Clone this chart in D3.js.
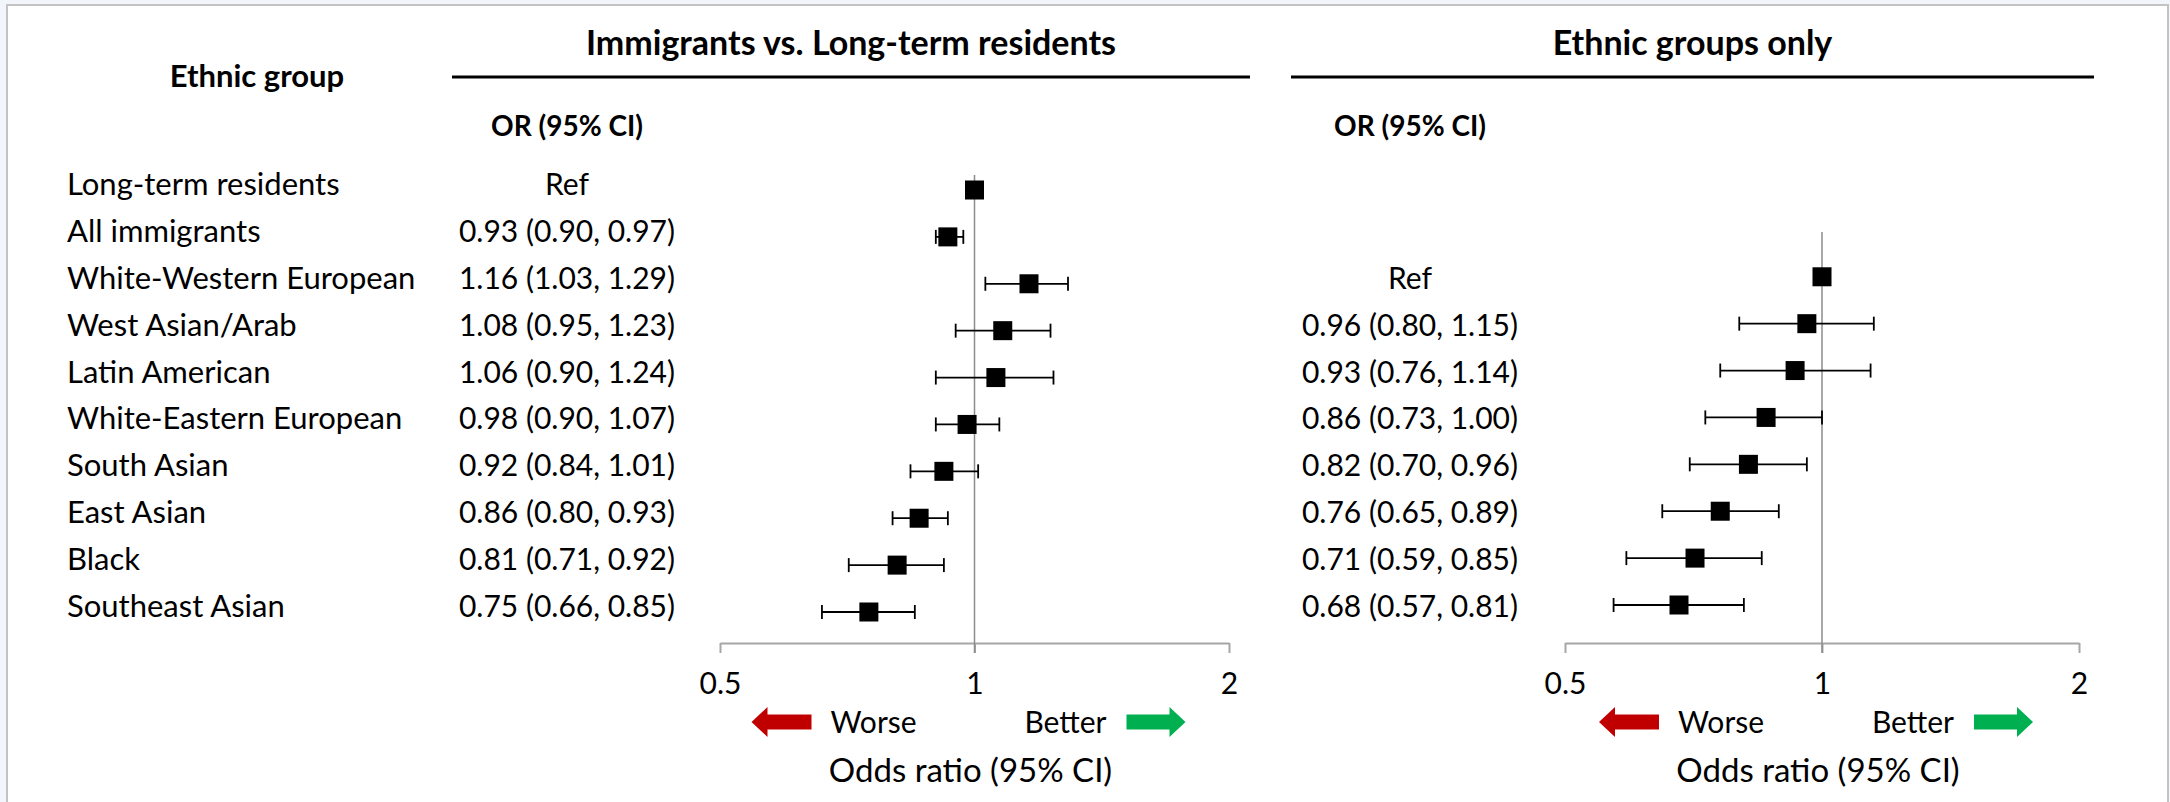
<!DOCTYPE html>
<html>
<head>
<meta charset="utf-8">
<script src="https://cdn.jsdelivr.net/npm/d3@7/dist/d3.min.js"></script>
<style>
  html, body { margin: 0; padding: 0; background: #f2f6fb; }
  svg { display: block; }
  text { font-family: Lato, "Open Sans", sans-serif; fill: #000; }
</style>
</head>
<body>
<svg id="chart" width="2170" height="802"></svg>
<script>
// ---------------- data ----------------
const groups = ["Long-term residents", "All immigrants", "White-Western European", "West Asian/Arab",
  "Latin American", "White-Eastern European", "South Asian", "East Asian", "Black", "Southeast Asian"];

// Panel A: Immigrants vs. Long-term residents
const orA = [1.00, 0.93, 1.16, 1.08, 1.06, 0.98, 0.92, 0.86, 0.81, 0.75];
const loA = [null, 0.90, 1.03, 0.95, 0.90, 0.90, 0.84, 0.80, 0.71, 0.66];
const hiA = [null, 0.97, 1.29, 1.23, 1.24, 1.07, 1.01, 0.93, 0.92, 0.85];
const refA = [true, false, false, false, false, false, false, false, false, false];

// Panel B: Ethnic groups only
const orB = [null, null, 1.00, 0.96, 0.93, 0.86, 0.82, 0.76, 0.71, 0.68];
const loB = [null, null, null, 0.80, 0.76, 0.73, 0.70, 0.65, 0.59, 0.57];
const hiB = [null, null, null, 1.15, 1.14, 1.00, 0.96, 0.89, 0.85, 0.81];
const refB = [false, false, true, false, false, false, false, false, false, false];

const tickValues = [0.5, 1, 2];
const tickLabels = ["0.5", "1", "2"];

const titleA = "Immigrants vs. Long-term residents";
const titleB = "Ethnic groups only";
const colHeader = "Ethnic group";
const orHeader = "OR (95% CI)";
const axisTitle = "Odds ratio (95% CI)";
const worseLabel = "Worse";
const betterLabel = "Better";

// ---------------- layout ----------------
const svg = d3.select("#chart");

svg.append("rect").attr("x", 7).attr("y", 5).attr("width", 2161).attr("height", 810)
  .attr("fill", "#fff").attr("stroke", "#c3c3c3").attr("stroke-width", 2);

const y = d3.scalePoint().domain(groups).range([185, 607]);
const fmt = d3.format(".2f");
const orText = (o, l, h, r) => r ? "Ref" : (o == null ? "" : `${fmt(o)} (${fmt(l)}, ${fmt(h)})`);

// column header
svg.append("text").attr("x", 257).attr("y", 87).attr("text-anchor", "middle")
  .attr("font-size", 31).attr("font-weight", 700).text(colHeader);

// row labels
svg.append("g").selectAll("text").data(groups).join("text")
  .attr("x", 67).attr("y", d => y(d) + 10).attr("font-size", 31).text(d => d);

const axisY = 643;

const panels = [
  { or: orA, lo: loA, hi: hiA, ref: refA, title: titleA, lineX: [452, 1250], colCenter: 567,
    range: [720, 1229], refTop: 175, mOff: 5 },
  { or: orB, lo: loB, hi: hiB, ref: refB, title: titleB, lineX: [1291, 2094], colCenter: 1410,
    range: [1565, 2079], refTop: 232, mOff: -2 }
];

panels.forEach(p => {
  const g = svg.append("g");
  const x = d3.scaleLog().base(2).domain([0.5, 2]).range(p.range);

  // title + rule
  g.append("text").attr("x", (p.lineX[0] + p.lineX[1]) / 2).attr("y", 55)
    .attr("text-anchor", "middle").attr("font-size", 34).attr("font-weight", 700).text(p.title);
  g.append("line").attr("x1", p.lineX[0]).attr("x2", p.lineX[1]).attr("y1", 77).attr("y2", 77)
    .attr("stroke", "#000").attr("stroke-width", 3);

  // OR header
  g.append("text").attr("x", p.colCenter).attr("y", 136).attr("text-anchor", "middle")
    .attr("font-size", 28).attr("font-weight", 700).text(orHeader);

  // OR values
  const rows = groups.map((gname, i) => ({ g: gname, or: p.or[i], lo: p.lo[i], hi: p.hi[i], ref: p.ref[i] }))
    .filter(d => d.or != null);

  g.append("g").selectAll("text").data(rows).join("text")
    .attr("x", p.colCenter).attr("y", d => y(d.g) + 10).attr("text-anchor", "middle")
    .attr("font-size", 30).text(d => orText(d.or, d.lo, d.hi, d.ref));

  // axis
  const axis = d3.axisBottom(x).tickValues(tickValues).tickFormat((d, i) => tickLabels[i])
    .tickSize(10).tickSizeOuter(0).tickPadding(20);
  const ag = g.append("g").attr("transform", `translate(0,${axisY})`).call(axis);
  ag.select(".domain").attr("stroke", "#a6a6a6").attr("stroke-width", 2);
  ag.selectAll(".tick line").attr("stroke", "#a6a6a6").attr("stroke-width", 2);
  ag.selectAll(".tick text").attr("font-size", 30).attr("font-family", "Lato, sans-serif").attr("fill", "#000");

  // reference line at 1
  g.append("line").attr("x1", x(1)).attr("x2", x(1)).attr("y1", p.refTop).attr("y2", axisY + 10)
    .attr("stroke", "#8c8c8c").attr("stroke-width", 1.5);

  // error bars
  const ci = rows.filter(d => d.lo != null);
  const cap = 7;
  const eg = g.append("g").attr("stroke", "#000").attr("stroke-width", 1.8);
  eg.selectAll("line.ci").data(ci).join("line").attr("class", "ci")
    .attr("x1", d => x(d.lo)).attr("x2", d => x(d.hi))
    .attr("y1", d => y(d.g) + p.mOff).attr("y2", d => y(d.g) + p.mOff);
  eg.selectAll("line.capl").data(ci).join("line").attr("class", "capl")
    .attr("x1", d => x(d.lo)).attr("x2", d => x(d.lo))
    .attr("y1", d => y(d.g) + p.mOff - cap).attr("y2", d => y(d.g) + p.mOff + cap);
  eg.selectAll("line.caph").data(ci).join("line").attr("class", "caph")
    .attr("x1", d => x(d.hi)).attr("x2", d => x(d.hi))
    .attr("y1", d => y(d.g) + p.mOff - cap).attr("y2", d => y(d.g) + p.mOff + cap);

  // markers
  const ms = 19;
  g.append("g").selectAll("rect").data(rows).join("rect")
    .attr("x", d => x(d.or) - ms / 2).attr("y", d => y(d.g) + p.mOff - ms / 2)
    .attr("width", ms).attr("height", ms).attr("fill", "#000");

  // worse / better
  const c = x(1);
  const arrow = (x0, x1, dir, color) => {
    const yc = 722, sh = 7.5, hh = 15, hl = 16;
    let pts;
    if (dir < 0) {
      pts = [[x0, yc], [x0 + hl, yc - hh], [x0 + hl, yc - sh], [x1, yc - sh], [x1, yc + sh], [x0 + hl, yc + sh], [x0 + hl, yc + hh]];
    } else {
      pts = [[x1, yc], [x1 - hl, yc - hh], [x1 - hl, yc - sh], [x0, yc - sh], [x0, yc + sh], [x1 - hl, yc + sh], [x1 - hl, yc + hh]];
    }
    g.append("polygon").attr("points", pts.map(q => q.join(",")).join(" ")).attr("fill", color);
  };
  arrow(c - 223, c - 163, -1, "#c00000");
  arrow(c + 152, c + 211, 1, "#00b050");
  g.append("text").attr("x", c - 144).attr("y", 733).attr("font-size", 30).text(worseLabel);
  g.append("text").attr("x", c + 132).attr("y", 733).attr("text-anchor", "end").attr("font-size", 30).text(betterLabel);

  g.append("text").attr("x", c - 4).attr("y", 782).attr("text-anchor", "middle").attr("font-size", 33).text(axisTitle);
});
</script>
</body>
</html>
